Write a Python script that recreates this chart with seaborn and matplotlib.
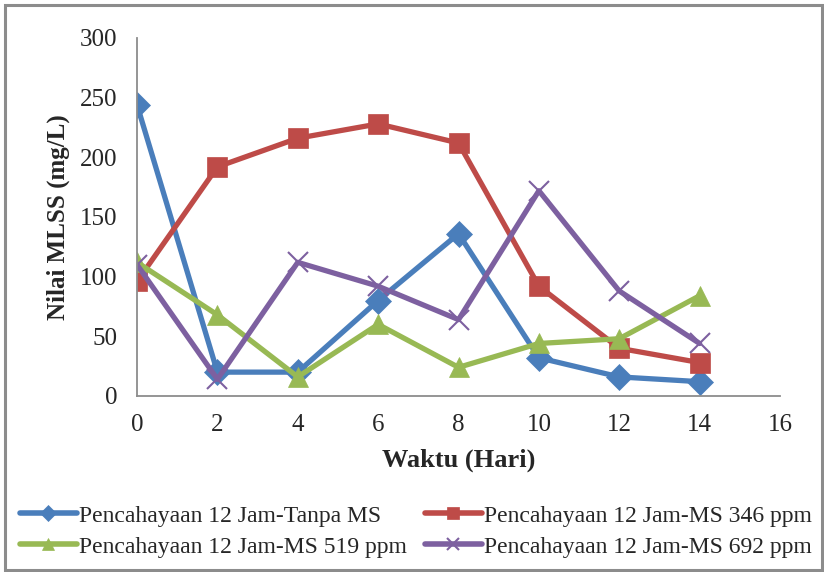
import matplotlib
matplotlib.use("Agg")
import matplotlib.pyplot as plt
import seaborn as sns
import pandas as pd
from matplotlib.patches import Rectangle
from matplotlib.lines import Line2D

days = [0, 2, 4, 6, 8, 10, 12, 14]
tanpa_ms = [244, 20, 20, 80, 136, 32, 16, 12]
ms_346 = [96, 192, 216, 228, 212, 92, 40, 28]
ms_519 = [112, 68, 16, 60, 24, 44, 48, 84]
ms_692 = [110, 14, 112, 92, 64, 172, 88, 44]
series_names = ["Pencahayaan 12 Jam-Tanpa MS", "Pencahayaan 12 Jam-MS 346 ppm",
                "Pencahayaan 12 Jam-MS 519 ppm", "Pencahayaan 12 Jam-MS 692 ppm"]
x_ticks = [0, 2, 4, 6, 8, 10, 12, 14, 16]
y_ticks = [0, 50, 100, 150, 200, 250, 300]

sns.set_theme(style="white")
plt.rcParams['font.family'] = ['Liberation Serif', 'DejaVu Serif']

colors = ["#4A7EBB", "#BE4B48", "#98B954", "#7D60A0"]
markers = ["D", "s", "^", "x"]
msizes = [13, 15, 15, 15]

fig = plt.figure(figsize=(8.24, 5.72), dpi=100)
ax = fig.add_axes([0.1663, 0.3077, 0.7803, 0.6259])

for name, vals, c, mk, ms in zip(series_names, [tanpa_ms, ms_346, ms_519, ms_692],
                                 colors, markers, msizes):
    d = pd.DataFrame({"Waktu": days, "MLSS": vals})
    sns.lineplot(data=d, x="Waktu", y="MLSS", color=c, marker=mk, markersize=ms,
                 markerfacecolor=c, markeredgecolor=c,
                 markeredgewidth=1.5 if mk == "x" else 0.5,
                 linewidth=3.8, ax=ax, sort=False, label=name, legend=False)

ax.set_xlim(0, 16)
ax.set_ylim(0, 300)
ax.set_xticks(x_ticks)
ax.set_yticks(y_ticks)
ax.tick_params(axis="x", length=0, labelsize=18, pad=13)
ax.tick_params(axis="y", length=0, labelsize=18, pad=14)
for s in ["top", "right"]:
    ax.spines[s].set_visible(False)
for s in ["left", "bottom"]:
    ax.spines[s].set_color("#8c8c8c")
    ax.spines[s].set_linewidth(1.3)
ax.grid(False)

ax.set_xlabel("Waktu (Hari)", fontsize=19, fontweight="bold")
ax.set_ylabel("Nilai MLSS (mg/L)", fontsize=18, fontweight="bold")
ax.xaxis.set_label_coords(0.5, -0.148)
ax.yaxis.set_label_coords(-0.105, 0.5)

handles = {}
for name, c, mk, ms in zip(series_names, colors, markers, msizes):
    handles[name] = Line2D([0], [0], color=c, lw=4, marker=mk, markersize=8,
                           markerfacecolor=c, markeredgecolor=c,
                           markeredgewidth=1.5 if mk == "x" else 0.5, label=name)
order = [series_names[0], series_names[2], series_names[1], series_names[3]]
fig.legend(handles=[handles[n] for n in order], loc="center",
           bbox_to_anchor=(0.505, 0.071), ncol=2,
           frameon=False, fontsize=17, handlelength=2.4, handletextpad=0.12,
           columnspacing=0.75, labelspacing=0.4, borderaxespad=0, borderpad=0)

fig.patches.append(Rectangle((0.006, 0.004), 0.991, 0.988, transform=fig.transFigure,
                             fill=False, edgecolor="#8c8c8c", linewidth=2.2))

fig.savefig("out.png", dpi=100, facecolor="white")
